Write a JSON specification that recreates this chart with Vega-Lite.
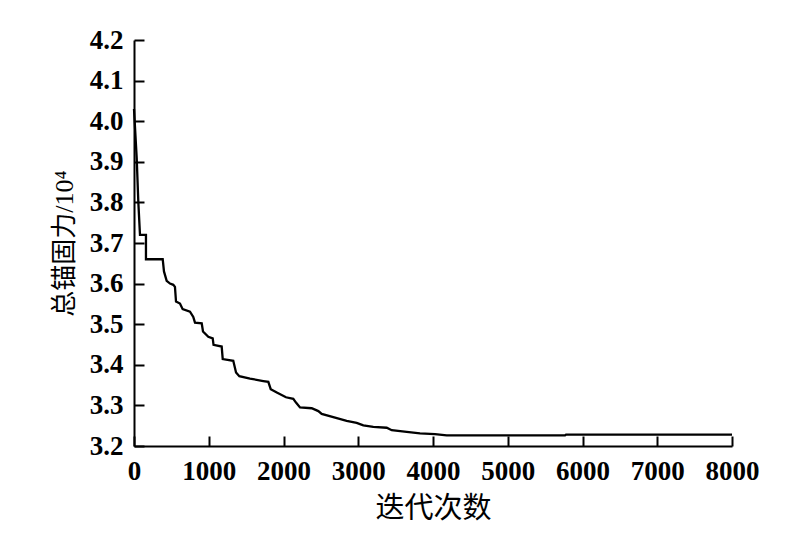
{
  "$schema": "https://vega.github.io/schema/vega-lite/v6.json",
  "width": 598,
  "height": 406,
  "autosize": "none",
  "padding": {"left": 134, "top": 40, "right": 74, "bottom": 92},
  "background": "white",
  "config": {"view": {"stroke": null}},
  "data": {"values": [
    {"x": 0, "y": 4.03}, {"x": 36, "y": 3.91}, {"x": 58, "y": 3.80}, {"x": 80, "y": 3.72},
    {"x": 160, "y": 3.72}, {"x": 160, "y": 3.66}, {"x": 384, "y": 3.66}, {"x": 401, "y": 3.63},
    {"x": 437, "y": 3.607}, {"x": 482, "y": 3.60}, {"x": 526, "y": 3.597}, {"x": 548, "y": 3.592},
    {"x": 562, "y": 3.556}, {"x": 615, "y": 3.551}, {"x": 651, "y": 3.537}, {"x": 749, "y": 3.531},
    {"x": 793, "y": 3.518}, {"x": 816, "y": 3.504}, {"x": 906, "y": 3.502}, {"x": 923, "y": 3.482},
    {"x": 994, "y": 3.469}, {"x": 1053, "y": 3.465}, {"x": 1064, "y": 3.449}, {"x": 1173, "y": 3.445},
    {"x": 1187, "y": 3.414}, {"x": 1328, "y": 3.41}, {"x": 1365, "y": 3.381}, {"x": 1409, "y": 3.372},
    {"x": 1552, "y": 3.366}, {"x": 1730, "y": 3.36}, {"x": 1797, "y": 3.358}, {"x": 1829, "y": 3.34},
    {"x": 1917, "y": 3.331}, {"x": 2033, "y": 3.32}, {"x": 2131, "y": 3.316}, {"x": 2167, "y": 3.307},
    {"x": 2221, "y": 3.295}, {"x": 2377, "y": 3.293}, {"x": 2466, "y": 3.286}, {"x": 2511, "y": 3.279},
    {"x": 2666, "y": 3.271}, {"x": 2845, "y": 3.262}, {"x": 2979, "y": 3.257}, {"x": 3068, "y": 3.251},
    {"x": 3201, "y": 3.247}, {"x": 3381, "y": 3.245}, {"x": 3448, "y": 3.239}, {"x": 3648, "y": 3.235},
    {"x": 3826, "y": 3.231}, {"x": 4027, "y": 3.229}, {"x": 4183, "y": 3.226}, {"x": 5766, "y": 3.226},
    {"x": 5780, "y": 3.228}, {"x": 8000, "y": 3.228}
  ]},
  "mark": {"type": "line", "color": "black", "strokeWidth": 2.3, "interpolate": "linear"},
  "encoding": {
    "x": {
      "field": "x", "type": "quantitative",
      "scale": {"domain": [0, 8000], "nice": false, "zero": false},
      "axis": {
        "title": "迭代次数",
        "values": [0, 1000, 2000, 3000, 4000, 5000, 6000, 7000, 8000],
        "format": "d",
        "grid": false,
        "domainColor": "black", "domainWidth": 2,
        "tickColor": "black", "tickWidth": 2, "tickSize": -10,
        "labelFont": "Liberation Serif", "labelFontSize": 27, "labelFontWeight": "bold", "labelColor": "black",
        "labelPadding": 22, "labelFlush": false,
        "titleFont": "Liberation Serif, Noto Sans CJK SC", "titleFontSize": 29,
        "titleFontWeight": "normal", "titleColor": "black", "titlePadding": 10
      }
    },
    "y": {
      "field": "y", "type": "quantitative",
      "scale": {"domain": [3.2, 4.2], "nice": false, "zero": false},
      "axis": {
        "title": "总锚固力/10⁴",
        "values": [3.2, 3.3, 3.4, 3.5, 3.6, 3.7, 3.8, 3.9, 4.0, 4.1, 4.2],
        "format": ".1f",
        "grid": false,
        "domainColor": "black", "domainWidth": 2,
        "tickColor": "black", "tickWidth": 2, "tickSize": -10,
        "labelFont": "Liberation Serif", "labelFontSize": 27, "labelFontWeight": "bold", "labelColor": "black",
        "labelPadding": 21, "labelFlush": false,
        "titleFont": "Liberation Serif, Noto Sans CJK SC", "titleFontSize": 26,
        "titleFontWeight": "normal", "titleColor": "black", "titlePadding": 12
      }
    }
  }
}
